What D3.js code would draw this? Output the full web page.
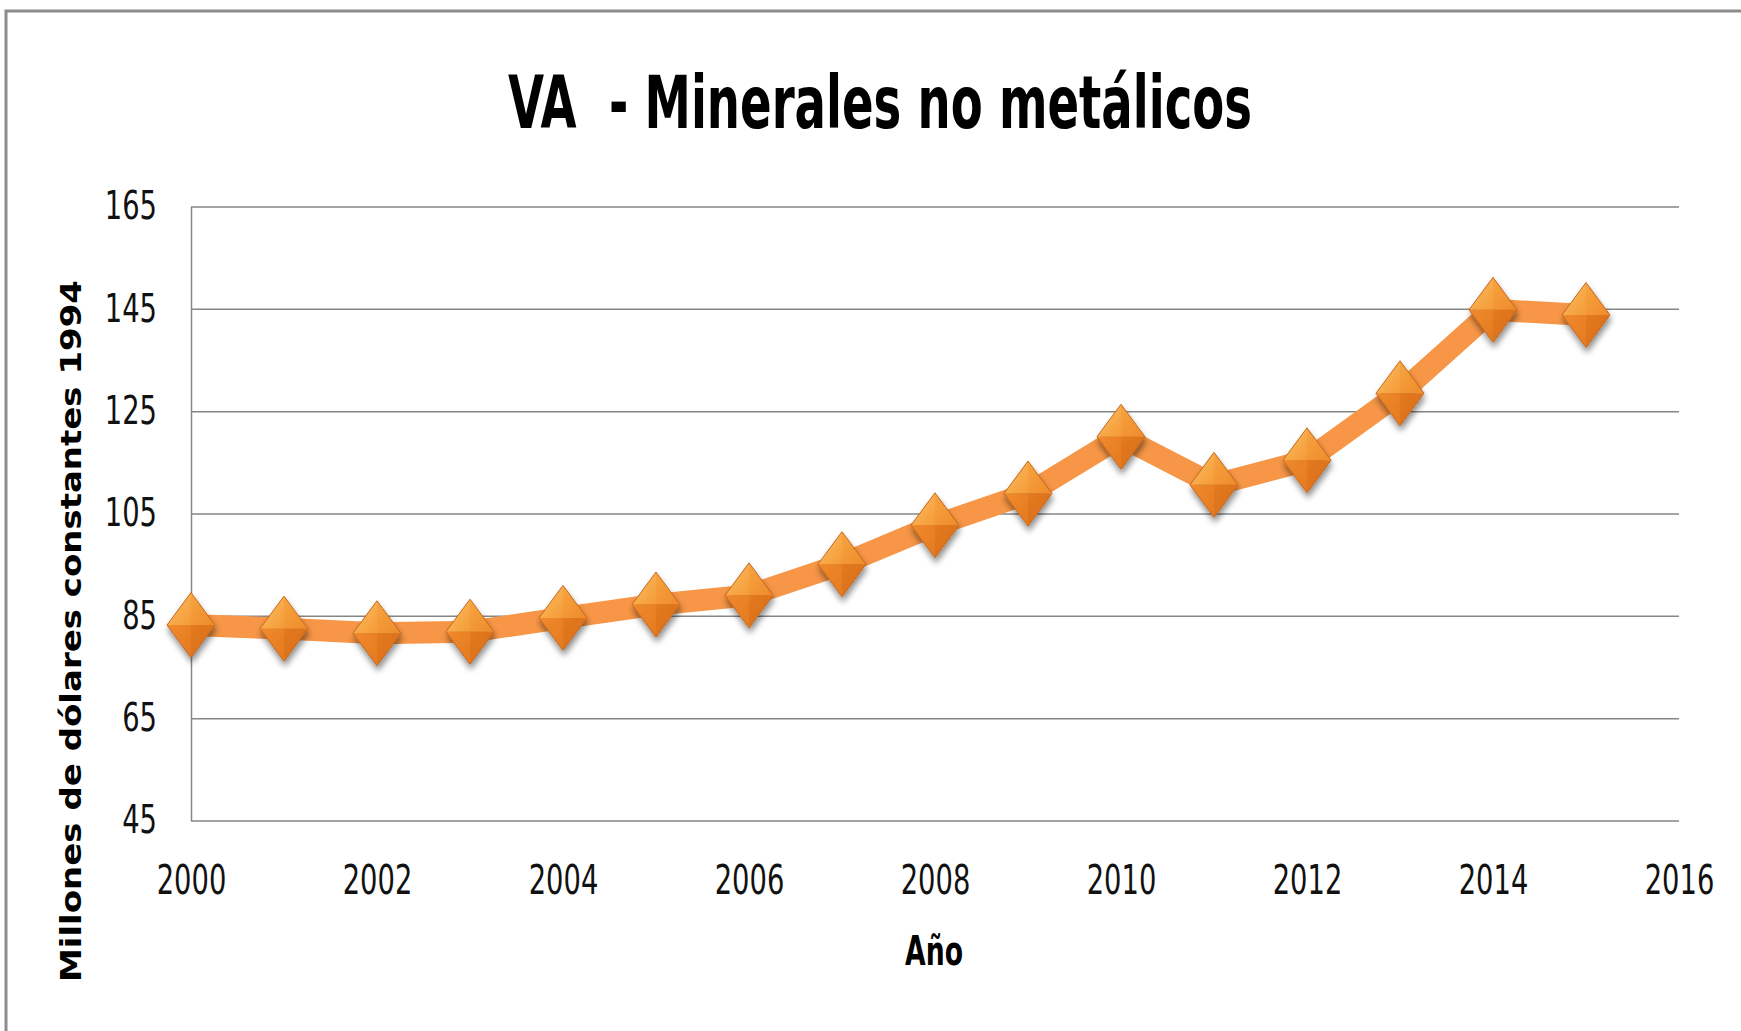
<!DOCTYPE html>
<html>
<head>
<meta charset="utf-8">
<script src="https://cdn.jsdelivr.net/npm/d3@7"></script>
<style>
  html, body { margin: 0; padding: 0; background: #fff; }
  svg { display: block; }
</style>
</head>
<body>
<div id="chart"></div>
<script>
// chart data
const years  = [2000, 2001, 2002, 2003, 2004, 2005, 2006, 2007, 2008, 2009, 2010, 2011, 2012, 2013, 2014, 2015]
const values = [83.2, 82.5, 81.6, 81.9, 84.6, 87.2, 89.0, 95.1, 102.7, 108.9, 120.0, 110.6, 115.4, 128.5, 144.8, 143.8]
const yTicks = [45, 65, 85, 105, 125, 145, 165]
const xTicks = [2000, 2002, 2004, 2006, 2008, 2010, 2012, 2014, 2016]

const titleText  = 'VA  - Minerales no metálicos'
const yLabelText = 'Millones de dólares constantes 1994'
const xLabelText = 'Año'

const W = 1741, H = 1031
const plot = { left: 191, right: 1679, top: 206.5, bottom: 820.5 }
const narrow = '"Liberation Sans Narrow", "DejaVu Sans Condensed", sans-serif'
const digitW = 17.4  // squeeze digits to a Calibri-like width

const xScale = d3.scaleLinear().domain([2000, 2016]).range([plot.left, plot.right])
const yScale = d3.scaleLinear().domain([45, 165]).range([plot.bottom, plot.top])

const svg = d3.select('#chart').append('svg')
    .attr('width', W)
    .attr('height', H)

// gradients + shadow for the diamond markers
const defs = svg.append('defs')
function grad(id, c1, c2) {
    const g = defs.append('linearGradient').attr('id', id)
        .attr('x1', '0%').attr('y1', '0%').attr('x2', '100%').attr('y2', '100%')
    g.append('stop').attr('offset', '0%').attr('stop-color', c1)
    g.append('stop').attr('offset', '100%').attr('stop-color', c2)
}
grad('fTL', '#fcc064', '#f49a36')
grad('fTR', '#f7a440', '#ee8a2a')
grad('fBL', '#f08a2c', '#e47a20')
grad('fBR', '#e47a20', '#d56c18')

const shadow = defs.append('filter').attr('id', 'shadow')
    .attr('x', '-50%').attr('y', '-50%').attr('width', '200%').attr('height', '200%')
shadow.append('feGaussianBlur').attr('in', 'SourceAlpha').attr('stdDeviation', 3)
shadow.append('feOffset').attr('dx', 1).attr('dy', 5).attr('result', 'off')
shadow.append('feComponentTransfer').append('feFuncA').attr('type', 'linear').attr('slope', 0.45)
const merge = shadow.append('feMerge')
merge.append('feMergeNode')
merge.append('feMergeNode').attr('in', 'SourceGraphic')

// outer frame
svg.append('rect')
    .attr('x', 6).attr('y', 11)
    .attr('width', W + 50).attr('height', H + 50)
    .attr('fill', 'none')
    .attr('stroke', '#8c8c8c')
    .attr('stroke-width', 3)

// title
svg.append('text')
    .attr('x', 880).attr('y', 128)
    .attr('text-anchor', 'middle')
    .attr('textLength', 744)
    .attr('lengthAdjust', 'spacingAndGlyphs')
    .style('font-family', narrow)
    .style('font-weight', 'bold')
    .style('font-size', '73px')
    .style('white-space', 'pre')
    .attr('fill', '#000')
    .text(titleText)

// y axis with gridlines
svg.append('g')
    .attr('transform', `translate(${plot.left},0)`)
    .call(d3.axisLeft(yScale).tickValues(yTicks).tickSize(0).tickPadding(34))
    .call(g => g.select('.domain').attr('stroke', '#868686').attr('stroke-width', 1.5))
    .call(g => g.selectAll('.tick line')
        .attr('x2', plot.right - plot.left)
        .attr('stroke', '#868686')
        .attr('stroke-width', 1.5))
    .selectAll('text')
        .style('font-family', narrow)
        .style('font-size', '39px')
        .attr('textLength', d => String(d).length * digitW)
        .attr('lengthAdjust', 'spacingAndGlyphs')
        .attr('fill', '#111')

// x axis labels only
svg.append('g')
    .attr('transform', `translate(0,${plot.bottom})`)
    .call(d3.axisBottom(xScale).tickValues(xTicks).tickFormat(d3.format('d')).tickSize(0).tickPadding(45))
    .call(g => g.select('.domain').remove())
    .selectAll('text')
        .style('font-family', narrow)
        .style('font-size', '40px')
        .attr('textLength', d => String(d).length * digitW)
        .attr('lengthAdjust', 'spacingAndGlyphs')
        .attr('fill', '#111')

// axis titles
svg.append('text')
    .attr('transform', 'translate(81,631) rotate(-90)')
    .attr('text-anchor', 'middle')
    .attr('textLength', 702)
    .attr('lengthAdjust', 'spacingAndGlyphs')
    .style('font-family', '"DejaVu Sans", Verdana, sans-serif')
    .style('font-weight', 'bold')
    .style('font-size', '29px')
    .attr('fill', '#000')
    .text(yLabelText)

svg.append('text')
    .attr('x', 934).attr('y', 965)
    .attr('text-anchor', 'middle')
    .attr('textLength', 58)
    .attr('lengthAdjust', 'spacingAndGlyphs')
    .style('font-family', narrow)
    .style('font-weight', 'bold')
    .style('font-size', '40px')
    .attr('fill', '#000')
    .text(xLabelText)

// series
const data = years.map((y, i) => ({ year: y, value: values[i] }))

const line = d3.line()
    .x(d => xScale(d.year))
    .y(d => yScale(d.value))

svg.append('path')
    .datum(data)
    .attr('d', line)
    .attr('fill', 'none')
    .attr('stroke', '#f79646')
    .attr('stroke-width', 22)
    .attr('stroke-linejoin', 'round')

// diamond markers, 4 facets each
const hw = 24, hh = 32.5
const facets = [
    { id: 'fTL', d: `M0,0 L${-hw},0 L0,${-hh} Z` },
    { id: 'fTR', d: `M0,0 L0,${-hh} L${hw},0 Z` },
    { id: 'fBL', d: `M0,0 L${-hw},0 L0,${hh} Z` },
    { id: 'fBR', d: `M0,0 L0,${hh} L${hw},0 Z` }
]

const markers = svg.selectAll('.marker')
    .data(data)
    .join('g')
    .attr('class', 'marker')
    .attr('transform', d => `translate(${xScale(d.year)},${yScale(d.value)})`)
    .attr('filter', 'url(#shadow)')

markers.selectAll('path.facet')
    .data(facets)
    .join('path')
    .attr('class', 'facet')
    .attr('d', f => f.d)
    .attr('fill', f => `url(#${f.id})`)

markers.append('path')
    .attr('d', `M${-hw},0 L0,${-hh} L${hw},0 L0,${hh} Z`)
    .attr('fill', 'none')
    .attr('stroke', '#c8681c')
    .attr('stroke-width', 1)
</script>
</body>
</html>
